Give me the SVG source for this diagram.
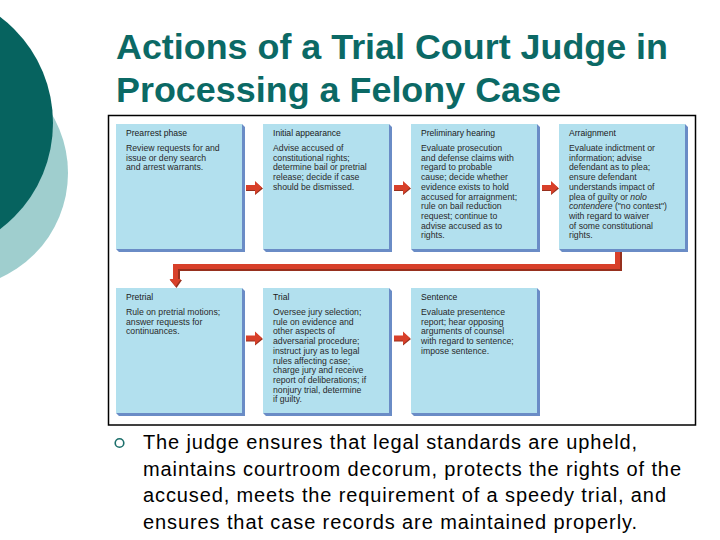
<svg xmlns="http://www.w3.org/2000/svg" xmlns:xlink="http://www.w3.org/1999/xlink" width="720" height="540" viewBox="0 0 720 540">
<style>
.title{font-family:"Liberation Sans",Arial,sans-serif;font-weight:bold;font-size:35px;fill:#0b6965}
.bullet{font-family:"Liberation Sans",Arial,sans-serif;font-size:20px;fill:#000}
.hd{font-family:"Liberation Sans",Arial,sans-serif;font-size:8.6px;fill:#1a1a1a}
.bd{font-family:"Liberation Sans",Arial,sans-serif;font-size:8.7px;fill:#2a2a2a}
.card{fill:#b2e0ee}
.edge{fill:#6a8cc6}
.arr{fill:#d8402a}
.arrs{fill:#96301e}
</style>
<defs>
<g id="cardshape">
<polygon class="edge" points="126,0 129,3 129,128 3,128 0,125 126,125"/>
<rect class="card" x="0" y="0" width="126" height="125"/>
</g>
<g id="rarrow">
<polygon class="arrs" points="0,-1.5 9,-1.5 9,-5.5 17,1 9,7.5 9,3.5 0,3.5"/>
<polygon class="arr" points="0,-2.5 9,-2.5 9,-6.5 16,0 9,6.5 9,2.5 0,2.5"/>
</g>
</defs>

<rect width="720" height="540" fill="#ffffff"/>

<g id="decor">
<circle cx="-47" cy="173" r="115" fill="#9fcece"/>
<circle cx="-80" cy="123" r="133" fill="#06635f"/>
</g>

<g id="title">
<text class="title" x="116" y="59" textLength="552" lengthAdjust="spacingAndGlyphs">Actions of a Trial Court Judge in</text>
<text class="title" x="116" y="102" textLength="445" lengthAdjust="spacingAndGlyphs">Processing a Felony Case</text>
</g>

<rect id="frame" x="108.5" y="115.5" width="587" height="309.5" fill="#ffffff" stroke="#000000" stroke-width="1.5"/>

<g id="connectors">
<use xlink:href="#rarrow" x="246" y="187.5"/>
<use xlink:href="#rarrow" x="394" y="187.5"/>
<use xlink:href="#rarrow" x="542" y="187.5"/>
<use xlink:href="#rarrow" x="246" y="338"/>
<use xlink:href="#rarrow" x="394" y="338"/>
<polyline points="619.5,252 619.5,268.5 177.5,268.5 177.5,281" fill="none" stroke="#96301e" stroke-width="5"/>
<polyline points="617.5,252 617.5,266.5 175.5,266.5 175.5,280" fill="none" stroke="#d8402a" stroke-width="5"/>
<polygon class="arrs" points="170,280 182,280 176.5,288"/>
<polygon class="arr" points="169.5,279 181,279 175.5,286.5"/>
</g>

<g id="prearrest">
<use xlink:href="#cardshape" x="116" y="124"/>
<text class="hd" x="126" y="136">Prearrest phase</text>
<text class="bd" x="126" y="151">Review requests for and</text>
<text class="bd" x="126" y="160.7">issue or deny search</text>
<text class="bd" x="126" y="170.4">and arrest warrants.</text>
</g>

<g id="initial">
<use xlink:href="#cardshape" x="263" y="124"/>
<text class="hd" x="273" y="136">Initial appearance</text>
<text class="bd" x="273" y="151">Advise accused of</text>
<text class="bd" x="273" y="160.7">constitutional rights;</text>
<text class="bd" x="273" y="170.4">determine bail or pretrial</text>
<text class="bd" x="273" y="180.1">release; decide if case</text>
<text class="bd" x="273" y="189.8">should be dismissed.</text>
</g>

<g id="preliminary">
<use xlink:href="#cardshape" x="411" y="124"/>
<text class="hd" x="421" y="136">Preliminary hearing</text>
<text class="bd" x="421" y="151">Evaluate prosecution</text>
<text class="bd" x="421" y="160.7">and defense claims with</text>
<text class="bd" x="421" y="170.4">regard to probable</text>
<text class="bd" x="421" y="180.1">cause; decide whether</text>
<text class="bd" x="421" y="189.8">evidence exists to hold</text>
<text class="bd" x="421" y="199.5">accused for arraignment;</text>
<text class="bd" x="421" y="209.2">rule on bail reduction</text>
<text class="bd" x="421" y="218.9">request; continue to</text>
<text class="bd" x="421" y="228.6">advise accused as to</text>
<text class="bd" x="421" y="238.3">rights.</text>
</g>

<g id="arraignment">
<use xlink:href="#cardshape" x="559" y="124"/>
<text class="hd" x="569" y="136">Arraignment</text>
<text class="bd" x="569" y="151">Evaluate indictment or</text>
<text class="bd" x="569" y="160.7">information; advise</text>
<text class="bd" x="569" y="170.4">defendant as to plea;</text>
<text class="bd" x="569" y="180.1">ensure defendant</text>
<text class="bd" x="569" y="189.8">understands impact of</text>
<text class="bd" x="569" y="199.5">plea of guilty or <tspan font-style="italic">nolo</tspan></text>
<text class="bd" x="569" y="209.2"><tspan font-style="italic">contendere</tspan> ("no contest")</text>
<text class="bd" x="569" y="218.9">with regard to waiver</text>
<text class="bd" x="569" y="228.6">of some constitutional</text>
<text class="bd" x="569" y="238.3">rights.</text>
</g>

<g id="pretrial">
<use xlink:href="#cardshape" x="116" y="288"/>
<text class="hd" x="126" y="300">Pretrial</text>
<text class="bd" x="126" y="315">Rule on pretrial motions;</text>
<text class="bd" x="126" y="324.7">answer requests for</text>
<text class="bd" x="126" y="334.4">continuances.</text>
</g>

<g id="trial">
<use xlink:href="#cardshape" x="263" y="288"/>
<text class="hd" x="273" y="300">Trial</text>
<text class="bd" x="273" y="315">Oversee jury selection;</text>
<text class="bd" x="273" y="324.7">rule on evidence and</text>
<text class="bd" x="273" y="334.4">other aspects of</text>
<text class="bd" x="273" y="344.1">adversarial procedure;</text>
<text class="bd" x="273" y="353.8">instruct jury as to legal</text>
<text class="bd" x="273" y="363.5">rules affecting case;</text>
<text class="bd" x="273" y="373.2">charge jury and receive</text>
<text class="bd" x="273" y="382.9">report of deliberations; if</text>
<text class="bd" x="273" y="392.6">nonjury trial, determine</text>
<text class="bd" x="273" y="402.3">if guilty.</text>
</g>

<g id="sentence">
<use xlink:href="#cardshape" x="411" y="288"/>
<text class="hd" x="421" y="300">Sentence</text>
<text class="bd" x="421" y="315">Evaluate presentence</text>
<text class="bd" x="421" y="324.7">report; hear opposing</text>
<text class="bd" x="421" y="334.4">arguments of counsel</text>
<text class="bd" x="421" y="344.1">with regard to sentence;</text>
<text class="bd" x="421" y="353.8">impose sentence.</text>
</g>

<g id="bullet">
<circle cx="119.5" cy="443" r="4.3" fill="none" stroke="#1c6f6b" stroke-width="1.6"/>
<text class="bullet" x="143" y="449" textLength="494" lengthAdjust="spacing">The judge ensures that legal standards are upheld,</text>
<text class="bullet" x="143" y="475.5" textLength="538" lengthAdjust="spacing">maintains courtroom decorum, protects the rights of the</text>
<text class="bullet" x="143" y="502" textLength="523" lengthAdjust="spacing">accused, meets the requirement of a speedy trial, and</text>
<text class="bullet" x="143" y="528.5" textLength="494" lengthAdjust="spacing">ensures that case records are maintained properly.</text>
</g>
</svg>
